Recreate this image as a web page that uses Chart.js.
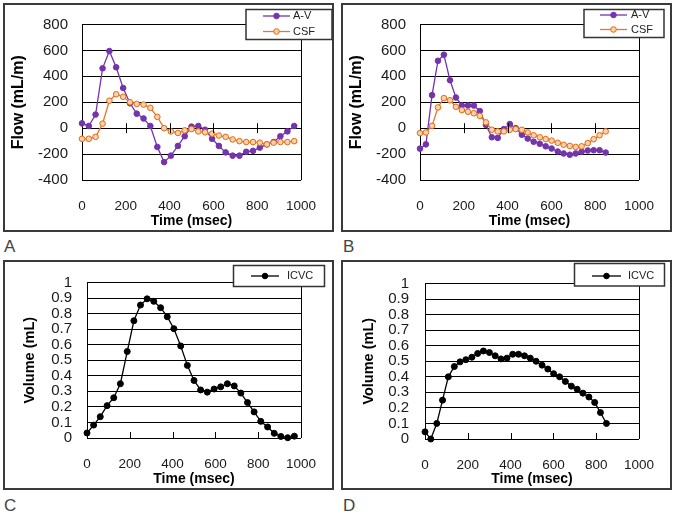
<!DOCTYPE html>
<html>
<head>
<meta charset="utf-8">
<script src="https://cdn.jsdelivr.net/npm/chart.js@4.4.1/dist/chart.umd.min.js"></script>
<style>
  body { margin: 0; background: #fff; width: 676px; height: 521px; position: relative; overflow: hidden;
         font-family: "Liberation Sans", Arial, sans-serif; }
  canvas { position: absolute; }
  .tag { position: absolute; font-size: 17px; line-height: 17px; color: #444; }
</style>
</head>
<body>
<canvas id="chartA" style="left:3px;top:3px" width="331" height="229"></canvas>
<canvas id="chartB" style="left:341px;top:3px" width="331" height="229"></canvas>
<canvas id="chartC" style="left:3px;top:260px" width="331" height="230"></canvas>
<canvas id="chartD" style="left:341px;top:260px" width="331" height="230"></canvas>
<div class="tag" style="left:4px;top:238px">A</div>
<div class="tag" style="left:343px;top:238px">B</div>
<div class="tag" style="left:4px;top:497px">C</div>
<div class="tag" style="left:343px;top:497px">D</div>

<script>
// time axis (msec) for each subject
const timesA = [0, 31, 62, 94, 125, 156, 188, 219, 250, 281, 312, 344, 375, 406, 438, 469,
                500, 531, 562, 594, 625, 656, 688, 719, 750, 781, 812, 844, 875, 906, 938, 969];
const timesB = [0, 27, 55, 82, 109, 137, 164, 191, 219, 246, 273, 301, 328, 355, 383, 410,
                437, 465, 492, 519, 547, 574, 601, 629, 656, 684, 711, 738, 766, 793, 820, 848];

// flow (mL/m)
const avA  = [37, 17, 105, 462, 595, 470, 310, 192, 112, 75, 17, -145, -262, -212, -137, -62,
              12, 17, -12, -82, -137, -187, -212, -212, -182, -175, -150, -125, -107, -62, -25, 17];
const csfA = [-82, -82, -67, 35, 212, 262, 242, 200, 187, 182, 157, 87, 0, -25, -37, -17,
              -7, -25, -32, -42, -57, -67, -87, -100, -107, -107, -112, -125, -112, -107, -107, -100];
const avB  = [-158, -125, 255, 520, 567, 370, 237, 175, 175, 175, 132, 25, -70, -75, -7, 32,
              0, -50, -80, -105, -120, -140, -157, -180, -195, -205, -195, -182, -172, -170, -170, -188];
const csfB = [-38, -33, 18, 160, 232, 215, 165, 140, 127, 115, 95, 45, -12, -25, -25, -12,
              -7, -12, -33, -55, -70, -84, -96, -113, -128, -137, -145, -140, -115, -85, -55, -25];

// intracranial volume change (mL)
const icvcC = [0.032, 0.083, 0.137, 0.208, 0.259, 0.349, 0.556, 0.754, 0.855, 0.895, 0.879, 0.838,
               0.780, 0.703, 0.592, 0.467, 0.370, 0.309, 0.295, 0.315, 0.329, 0.349, 0.335, 0.289,
               0.228, 0.168, 0.107, 0.071, 0.030, 0.010, 0.002, 0.012];
const icvcD = [0.046, 0.0, 0.10, 0.25, 0.40, 0.466, 0.496, 0.51, 0.526, 0.55, 0.566, 0.556,
               0.535, 0.515, 0.52, 0.545, 0.545, 0.535, 0.52, 0.50, 0.475, 0.45, 0.42, 0.40,
               0.37, 0.34, 0.32, 0.295, 0.27, 0.235, 0.17, 0.10];

const xTickMarks = [200, 400, 600, 800];

const PURPLE = '#7334AE';
const ORANGE = '#E8772E';
const FONT = '"Liberation Sans", Arial, sans-serif';

const pts = (xs, ys) => xs.map((x, i) => ({ x: x, y: ys[i] }));

function avSet(xs, ys) {
  return { label: 'A-V', data: pts(xs, ys), borderColor: PURPLE, borderWidth: 1.3,
           pointRadius: 2.8, pointBackgroundColor: PURPLE, pointBorderColor: PURPLE, pointBorderWidth: 1,
           tension: 0, clip: 8, order: 1 };
}
function csfSet(xs, ys) {
  return { label: 'CSF', data: pts(xs, ys), borderColor: ORANGE, borderWidth: 1.3,
           pointRadius: 2.8, pointBackgroundColor: '#F9CFB2', pointBorderColor: '#E46C0A', pointBorderWidth: 1,
           tension: 0, clip: 8, order: 0 };
}
function icvcSet(xs, ys) {
  return { label: 'ICVC', data: pts(xs, ys), borderColor: '#000', borderWidth: 1.3,
           pointRadius: 3, pointBackgroundColor: '#000', pointBorderColor: '#000', pointBorderWidth: 1,
           tension: 0, clip: 8 };
}

// frame, right plot border, axis tick marks and the boxed legend
const framePlugin = {
  id: 'frame',
  beforeDraw(chart) {
    const { ctx, width, height } = chart;
    ctx.save();
    ctx.fillStyle = '#fff';
    ctx.fillRect(0, 0, width, height);
    ctx.strokeStyle = '#3a3a3a';
    ctx.lineWidth = 2;
    ctx.strokeRect(1, 1, width - 2, height - 2);
    ctx.restore();
  },
  afterDraw(chart, args, o) {
    const { ctx, chartArea: a, scales } = chart;
    ctx.save();
    ctx.strokeStyle = '#000';
    ctx.lineWidth = 1;
    ctx.beginPath();
    const r = Math.round(a.right) + 0.5;
    ctx.moveTo(r, a.top);
    ctx.lineTo(r, a.bottom);
    // tick marks
    xTickMarks.forEach(v => {
      const px = Math.round(scales.x.getPixelForValue(v)) + 0.5;
      if (o.cross) {
        const py = scales.y.getPixelForValue(0);
        ctx.moveTo(px, py - 5);
        ctx.lineTo(px, py + 5);
      } else {
        ctx.moveTo(px, a.bottom - 6);
        ctx.lineTo(px, a.bottom);
      }
    });
    ctx.stroke();

    // legend
    const L = o.legend;
    ctx.fillStyle = '#fff';
    ctx.fillRect(L.x, L.y, L.w, L.h);
    ctx.strokeStyle = '#333';
    ctx.lineWidth = 1.5;
    ctx.strokeRect(L.x, L.y, L.w, L.h);
    ctx.font = '11px ' + FONT;
    ctx.textBaseline = 'middle';
    ctx.textAlign = 'left';
    chart.data.datasets.forEach((ds, i) => {
      const y = L.rows[i];
      ctx.strokeStyle = ds.borderColor;
      ctx.lineWidth = 1.3;
      ctx.beginPath();
      ctx.moveTo(L.x0, y);
      ctx.lineTo(L.x1, y);
      ctx.stroke();
      ctx.beginPath();
      ctx.arc((L.x0 + L.x1) / 2, y, 2.8, 0, Math.PI * 2);
      ctx.fillStyle = ds.pointBackgroundColor;
      ctx.fill();
      ctx.strokeStyle = ds.pointBorderColor;
      ctx.lineWidth = 1;
      ctx.stroke();
      ctx.fillStyle = '#222';
      ctx.fillText(ds.label, L.tx, y);
    });
    ctx.restore();
  }
};

function makeChart(id, datasets, p) {
  return new Chart(document.getElementById(id), {
    type: 'line',
    data: { datasets: datasets },
    plugins: [framePlugin],
    options: {
      responsive: false,
      animation: false,
      devicePixelRatio: 1,
      layout: { padding: { left: 0, right: p.padRight, top: p.padTop, bottom: 0 } },
      plugins: {
        legend: { display: false },
        tooltip: { enabled: false },
        frame: { cross: p.cross, legend: p.legend }
      },
      scales: {
        x: {
          type: 'linear', min: 0, max: 1000,
          ticks: { stepSize: 200, padding: 18, maxRotation: 0, color: '#1a1a1a',
                   font: { family: FONT, size: 13.5 }, callback: v => String(v) },
          grid: { display: false, drawTicks: false },
          border: { display: true, color: '#000', width: 1 },
          title: { display: true, text: 'Time (msec)', color: '#000',
                   font: { family: FONT, size: 14, weight: 'bold' }, padding: { top: 0, bottom: 2 } },
          afterFit(s) { s.height = p.xHeight; }
        },
        y: {
          min: p.yMin, max: p.yMax,
          ticks: { stepSize: p.yStep, padding: p.yPad, color: '#1a1a1a', autoSkip: false,
                   font: { family: FONT, size: 15, lineHeight: 1 },
                   callback: v => String(Math.round(v * 10) / 10) },
          grid: { color: '#000', lineWidth: 1, drawTicks: false },
          border: { display: true, color: '#000', width: 1 },
          title: { display: true, text: p.yTitle, color: '#000',
                   font: { family: FONT, size: p.yTitleSize, weight: 'bold' }, padding: { top: p.yTitlePad, bottom: 0 } },
          afterFit(s) { s.width = p.yWidth; }
        }
      }
    }
  });
}

makeChart('chartA', [avSet(timesA, avA), csfSet(timesA, csfA)], {
  padRight: 28, padTop: 17, xHeight: 52, yWidth: 79, yPad: 14, yTitlePad: 6, yTitleSize: 16,
  yMin: -400, yMax: 800, yStep: 200, yTitle: 'Flow (mL/m)', cross: true,
  legend: { x: 243, y: 6.5, w: 86, h: 30, x0: 260, x1: 287, tx: 290, rows: [13, 28.5] }
});
makeChart('chartB', [avSet(timesB, avB), csfSet(timesB, csfB)], {
  padRight: 28, padTop: 17, xHeight: 52, yWidth: 79, yPad: 14, yTitlePad: 6, yTitleSize: 16,
  yMin: -400, yMax: 800, yStep: 200, yTitle: 'Flow (mL/m)', cross: true,
  legend: { x: 243, y: 6.5, w: 80, h: 28, x0: 259, x1: 286, tx: 290, rows: [12, 26.5] }
});
makeChart('chartC', [icvcSet(timesA, icvcC)], {
  padRight: 28, padTop: 13, xHeight: 52, yWidth: 84, yPad: 15, yTitlePad: 18, yTitleSize: 14.5,
  yMin: 0, yMax: 1, yStep: 0.1, yTitle: 'Volume (mL)', cross: false,
  legend: { x: 230.5, y: 5.5, w: 91, h: 21, x0: 248, x1: 276, tx: 284, rows: [16] }
});
makeChart('chartD', [icvcSet(timesB, icvcD)], {
  padRight: 28, padTop: 13, xHeight: 51, yWidth: 84, yPad: 16, yTitlePad: 19, yTitleSize: 14.5,
  yMin: 0, yMax: 1, yStep: 0.1, yTitle: 'Volume (mL)', cross: false,
  legend: { x: 233.5, y: 3.5, w: 90, h: 22.5, x0: 251, x1: 280, tx: 287, rows: [16] }
});
</script>
</body>
</html>
